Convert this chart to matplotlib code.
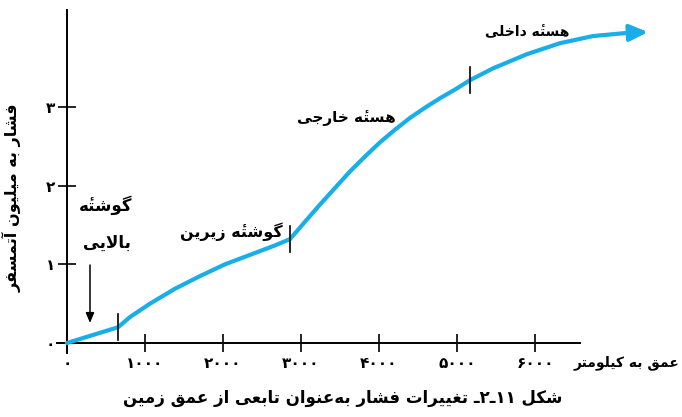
import unicodedata
import matplotlib
matplotlib.use('Agg')
import matplotlib.pyplot as plt


# curve: depth in km, pressure in million atm
depth_km = [0, 654, 808, 1064, 1385, 1705, 2026, 2346, 2667, 2859,
            3051, 3244, 3436, 3628, 3821, 4013, 4205, 4397, 4590, 4782, 4974, 5167,
            5462, 5897, 6321, 6744, 7179, 7449]
pressure = [0, 0.20, 0.33, 0.50, 0.69, 0.85, 1.00, 1.12, 1.24, 1.32,
            1.54, 1.76, 1.97, 2.18, 2.37, 2.55, 2.71, 2.86, 2.99, 3.11, 3.22, 3.34,
            3.49, 3.67, 3.81, 3.90, 3.94, 3.95]
boundary_km = [654, 2859, 5167]

x_ticks = [0, 1000, 2000, 3000, 4000, 5000, 6000]
x_tick_labels = ['۰', '۱۰۰۰', '۲۰۰۰', '۳۰۰۰', '۴۰۰۰', '۵۰۰۰', '۶۰۰۰']
y_ticks = [0, 1, 2, 3]
y_tick_labels = ['۰', '۱', '۲', '۳']

y_title = 'فشار به میلیون آتمسفر'
x_title = 'عمق به کیلومتر'
caption = 'شکل ۱۱ـ۲ـ تغییرات فشار به\u200cعنوان تابعی از عمق زمین'
inner_core = 'هستهٔ داخلی'
outer_core = 'هستهٔ خارجی'
lower_mantle = 'گوشتهٔ زیرین'
upper_mantle = ['گوشتهٔ', 'بالایی']


# matplotlib has no arabic shaping, so pick the presentation forms by hand
def _f(*codes):
    return tuple(chr(c) for c in codes)

FORMS = {
    'ا': _f(0xFE8D, 0xFE8E), 'آ': _f(0xFE81, 0xFE82),
    'د': _f(0xFEA9, 0xFEAA), 'ر': _f(0xFEAD, 0xFEAE),
    'ز': _f(0xFEAF, 0xFEB0), 'و': _f(0xFEED, 0xFEEE),
    'ب': _f(0xFE8F, 0xFE90, 0xFE91, 0xFE92),
    'ت': _f(0xFE95, 0xFE96, 0xFE97, 0xFE98),
    'ج': _f(0xFE9D, 0xFE9E, 0xFE9F, 0xFEA0),
    'خ': _f(0xFEA5, 0xFEA6, 0xFEA7, 0xFEA8),
    'س': _f(0xFEB1, 0xFEB2, 0xFEB3, 0xFEB4),
    'ش': _f(0xFEB5, 0xFEB6, 0xFEB7, 0xFEB8),
    'ع': _f(0xFEC9, 0xFECA, 0xFECB, 0xFECC),
    'غ': _f(0xFECD, 0xFECE, 0xFECF, 0xFED0),
    'ف': _f(0xFED1, 0xFED2, 0xFED3, 0xFED4),
    'ق': _f(0xFED5, 0xFED6, 0xFED7, 0xFED8),
    'ل': _f(0xFEDD, 0xFEDE, 0xFEDF, 0xFEE0),
    'م': _f(0xFEE1, 0xFEE2, 0xFEE3, 0xFEE4),
    'ن': _f(0xFEE5, 0xFEE6, 0xFEE7, 0xFEE8),
    'ه': _f(0xFEE9, 0xFEEA, 0xFEEB, 0xFEEC),
    'ی': _f(0xFBFC, 0xFBFD, 0xFBFE, 0xFBFF),
    'ک': _f(0xFB8E, 0xFB8F, 0xFB90, 0xFB91),
    'گ': _f(0xFB92, 0xFB93, 0xFB94, 0xFB95),
    'ـ': _f(0x0640, 0x0640, 0x0640, 0x0640),
}
LAMALEF = {'ا': _f(0xFEFB, 0xFEFC), 'آ': _f(0xFEF5, 0xFEF6)}


def joins_forward(c):
    return c in FORMS and len(FORMS[c]) == 4


def shape(s):
    out = []
    i = 0
    while i < len(s):
        c = s[i]
        if c not in FORMS:
            if c != '\u200c':
                out.append(c)
            i += 1
            continue
        jp = i > 0 and joins_forward(s[i - 1])
        nxt = s[i + 1] if i + 1 < len(s) else ''
        if c == 'ل' and nxt in LAMALEF:
            out.append(LAMALEF[nxt][1] if jp else LAMALEF[nxt][0])
            i += 2
            continue
        jn = joins_forward(c) and nxt in FORMS
        f = FORMS[c]
        if jp and jn:
            out.append(f[3])
        elif jp:
            out.append(f[1])
        elif jn:
            out.append(f[2])
        else:
            out.append(f[0])
        i += 1
    # right to left, numbers stay left to right, marks stay after their letter
    tokens = []
    for ch in out:
        if tokens and unicodedata.combining(ch):
            tokens[-1] += ch
        elif ch.isdigit() and tokens and tokens[-1][-1].isdigit():
            tokens[-1] += ch
        else:
            tokens.append(ch)
    return ''.join(reversed(tokens))


plt.rcParams['font.family'] = ['DejaVu Sans']
W, H = 682, 417
fig = plt.figure(figsize=(W / 100, H / 100), dpi=100)
ax = fig.add_axes([0, 0, 1, 1])

# pixel layout of the original: x=0 at 67px, 78px per 1000 km; y=0 at 343px, 78.7px per unit
kx, ky = 0.078, 78.7
ax.set_xlim(-67 / kx, (W - 67) / kx)
ax.set_ylim((343 - H) / ky, 343 / ky)

def fx(px):
    return px / W

def fy(py):
    return 1 - py / H

blue = '#18aee9'
ax.plot(depth_km[:-1], pressure[:-1], color=blue, lw=3, solid_capstyle='round',
        solid_joinstyle='round', zorder=3)
ax.annotate('', xy=(depth_km[-1], pressure[-1]), xytext=(depth_km[-2], pressure[-2]),
            arrowprops=dict(arrowstyle='-|>,head_length=1.1,head_width=0.5',
                            color=blue, lw=3, shrinkA=0, shrinkB=0), zorder=3)

# small vertical marks at the layer boundaries
half = 13 / ky
for b in boundary_km:
    p = pressure[depth_km.index(b)]
    ax.plot([b, b], [p - half, p + half], color='black', lw=1.2, zorder=4)

for s in ['top', 'right']:
    ax.spines[s].set_visible(False)
ax.spines['left'].set_position(('data', 0))
ax.spines['bottom'].set_position(('data', 0))
ax.spines['left'].set_bounds(-10 / ky, 333 / ky)
ax.spines['bottom'].set_bounds(-10 / kx, 513 / kx)
for s in ['left', 'bottom']:
    ax.spines[s].set_linewidth(1.4)
ax.patch.set_visible(False)

ax.set_xticks(x_ticks)
ax.set_xticklabels(x_tick_labels, fontsize=11, fontweight='bold')
ax.set_yticks(y_ticks)
ax.set_yticklabels(y_tick_labels, fontsize=11, fontweight='bold')
ax.tick_params(axis='both', direction='inout', length=13, width=1.2)
ax.tick_params(axis='x', pad=3)
ax.tick_params(axis='y', pad=2)

txt = dict(fontweight='bold', color='black')
fig.text(fx(12), fy(198), shape(y_title), rotation=90, ha='center', va='center', fontsize=11.5, **txt)
fig.text(fx(679), fy(363), shape(x_title), ha='right', va='center', fontsize=10, **txt)
fig.text(fx(343), fy(398), shape(caption), ha='center', va='center', fontsize=12, **txt)
fig.text(fx(527), fy(32), shape(inner_core), ha='center', va='center', fontsize=10, **txt)
fig.text(fx(346), fy(118), shape(outer_core), ha='center', va='center', fontsize=11, **txt)
fig.text(fx(231), fy(232), shape(lower_mantle), ha='center', va='center', fontsize=11.5, **txt)
fig.text(fx(106), fy(205), shape(upper_mantle[0]), ha='center', va='center', fontsize=12, **txt)
fig.text(fx(107), fy(243), shape(upper_mantle[1]), ha='center', va='center', fontsize=12, **txt)

ax.annotate('', xy=(fx(90), fy(323)), xytext=(fx(90), fy(265)), xycoords='figure fraction',
            arrowprops=dict(arrowstyle='-|>,head_length=0.6,head_width=0.25',
                            color='black', lw=1.1, shrinkA=0, shrinkB=0))

fig.savefig('out.png', dpi=100, facecolor='white')
